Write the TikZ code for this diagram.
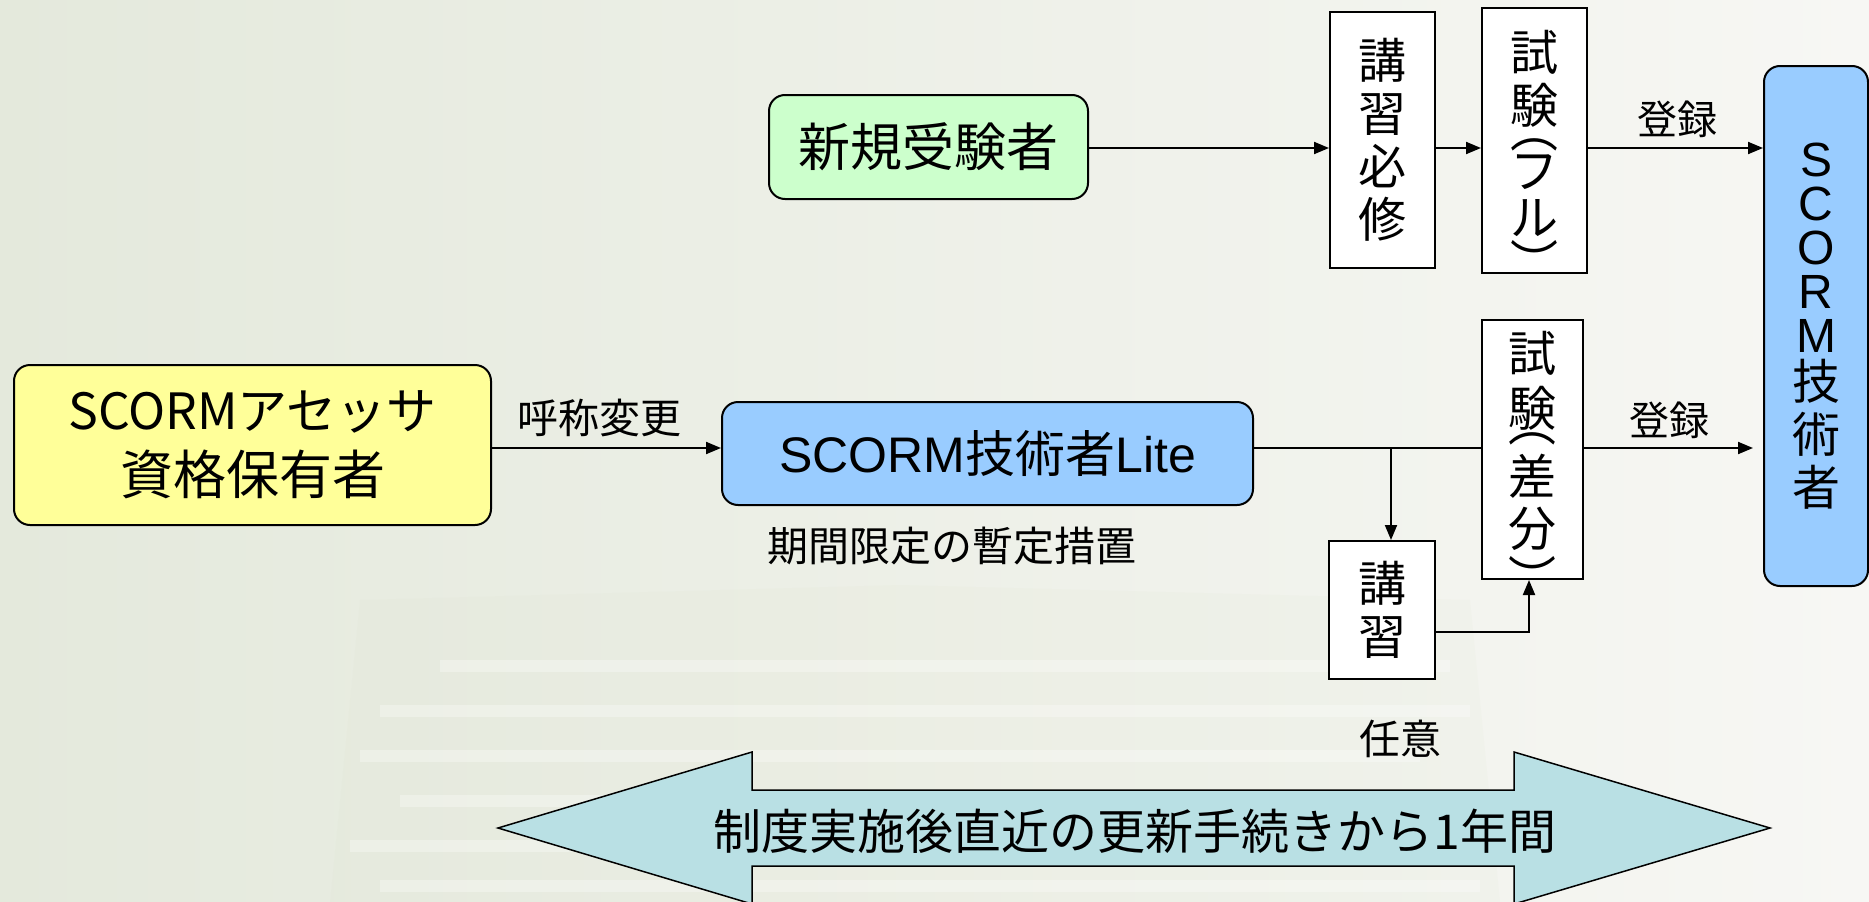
\documentclass[tikz,border=0pt]{standalone}
\usepackage{fontspec}
\setmainfont{Noto Sans CJK JP}
\newfontfamily\lat{Liberation Sans}
\usetikzlibrary{arrows.meta}
\definecolor{bgA}{RGB}{228,233,220}
\definecolor{bgB}{RGB}{247,247,244}
\definecolor{paper}{RGB}{214,222,190}
\definecolor{gfill}{RGB}{204,255,204}
\definecolor{yfill}{RGB}{255,255,153}
\definecolor{bfill}{RGB}{153,204,255}
\definecolor{cfill}{RGB}{185,224,228}
\begin{document}
\begin{tikzpicture}[x=1pt,y=-1pt,
  rbox/.style={draw=black,line width=2pt,rounded corners=16pt,inner sep=0pt,align=center},
  sbox/.style={draw=black,line width=2pt,fill=white,inner sep=0pt,align=center},
  vtext/.style={inner sep=0pt,align=center,font=\fontsize{48}{53}\selectfont},
  conn/.style={line width=2pt,-{Triangle[length=15pt,width=12pt]}},
  plainline/.style={line width=2pt},
  lbl/.style={inner sep=0pt,font=\fontsize{41}{46}\selectfont},
  vfont/.style={font=\fontsize{48}{53}\selectfont},
]
% background
\useasboundingbox (0,0) rectangle (1869,902);
\shade[left color=bgA,right color=bgB] (0,0) rectangle (1869,902);
\fill[paper,opacity=0.08] (360,600) -- (900,585) -- (1470,600) -- (1500,902) -- (330,902) -- cycle;
\foreach \yy/\xa/\xb in {660/440/1450,705/380/1470,750/360/1420,795/400/1490,840/350/1450,880/380/1480}
  \fill[white,opacity=0.3] (\xa,\yy) rectangle (\xb,\yy+12);

% nodes
\node[rbox,fill=gfill,minimum width=319pt,minimum height=104pt,font=\fontsize{52}{60}\selectfont] (new) at (928.5,147) {新規受験者};
\node[sbox,minimum width=105pt,minimum height=256pt,vfont] (k1) at (1382.5,140) {講\\習\\必\\修};
\node[sbox,minimum width=105pt,minimum height=265pt] (s1) at (1534.5,140.5) {};
\node[vtext] (s1t) at (s1.center) {\rule{0pt}{71pt}試\\験\\[-29pt]︵\\[-12pt]フ\\[-6pt]ル\\[-8pt]︶\rule[-2pt]{0pt}{0pt}};
\node[rbox,fill=bfill,minimum width=104pt,minimum height=520pt,font=\fontsize{48}{44}\selectfont] (tech) at (1816,326) {{\lat S}\\{\lat C}\\{\lat O}\\{\lat R}\\{\lat M}\\[3pt]技\\[8pt]術\\[8pt]者};
\node[rbox,fill=yfill,minimum width=477pt,minimum height=160pt,font=\fontsize{53}{65}\selectfont] (ass) at (252.5,445) {{\fontsize{50}{65}\selectfont SCORMアセッサ}\\資格保有者};
\node[rbox,fill=bfill,minimum width=531pt,minimum height=103pt,font=\fontsize{50}{55}\selectfont] (lite) at (987.5,453.5) {{\lat SCORM}技術者{\lat Lite}};
\node[sbox,minimum width=101pt,minimum height=259pt] (s2) at (1532.5,449.5) {};
\node[vtext] (s2t) at (s2.center) {\rule{0pt}{70pt}試\\[2pt]験\\[-38pt]︵\\[0pt]差\\[-1pt]分\\[-3pt]︶\rule[-2pt]{0pt}{0pt}};
\node[sbox,minimum width=106pt,minimum height=138pt,vfont] (k2) at (1382,610) {講\\習};

% labels
\node[lbl,font=\fontsize{40}{46}\selectfont] (l1) at (1677,119) {登録};
\node[lbl,font=\fontsize{40}{46}\selectfont] (l2) at (1669,420) {登録};
\node[lbl] (l3) at (599,418) {呼称変更};
\node[lbl] (l4) at (952,546) {期間限定の暫定措置};
\node[lbl] (l5) at (1400,739) {任意};

% connectors
\coordinate (ytop) at (0,148);
\coordinate (ymid) at (0,448);
\coordinate (br) at (1391,448);
\coordinate (ylow) at (0,632);
\coordinate (xup) at (1529,0);
\coordinate (tip2) at (1753,448);
\draw[conn] (new.east |- ytop) -- (k1.west |- ytop);
\draw[conn] (k1.east |- ytop) -- (s1.west |- ytop);
\draw[conn] (s1.east |- ytop) -- (tech.west |- ytop);
\draw[conn] (ass.east |- ymid) -- (lite.west |- ymid);
\draw[plainline] (lite.east |- ymid) -- (s2.west |- ymid);
\draw[conn] (br) -- (k2.north -| br);
\draw[conn] (k2.east |- ylow) -| (s2.south -| xup);
\draw[conn] (s2.east |- ymid) -- (tip2);

% period arrow
\filldraw[fill=cfill,draw=black,line width=1.5pt] (498,828) -- (752,752) -- (752,790) -- (1514,790) -- (1514,752) -- (1770,828) -- (1514,904) -- (1514,866) -- (752,866) -- (752,904) -- cycle;
\node[inner sep=0pt,font=\fontsize{48}{52}\selectfont] (period) at (1135,831) {制度実施後直近の更新手続きから1年間};
\end{tikzpicture}
\end{document}
